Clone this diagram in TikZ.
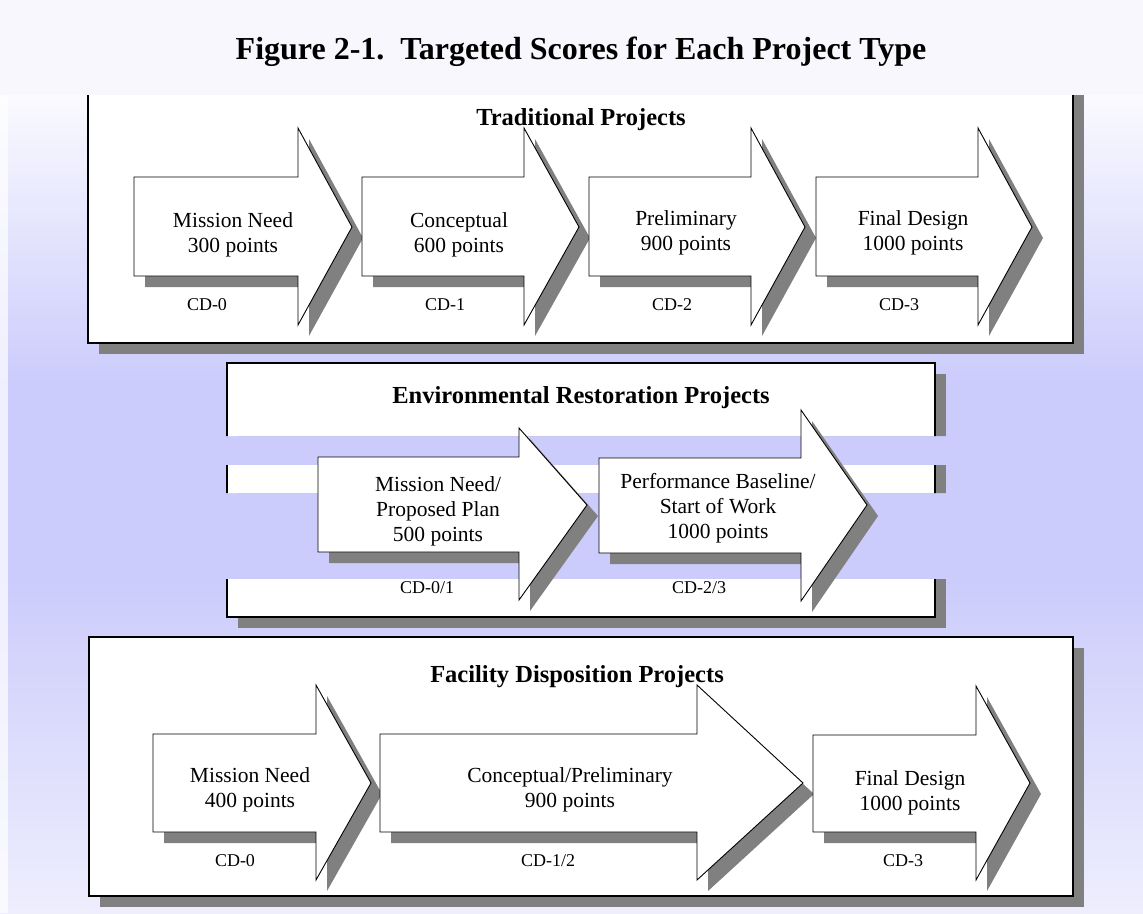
\documentclass[tikz,border=0pt]{standalone}
\usepackage{fontspec}
\setmainfont{Liberation Serif}
\usepackage{xcolor}
\usepackage{tikz}
\definecolor{shadow}{HTML}{808080}
\definecolor{lilac}{HTML}{CCCCFC}
\definecolor{paper}{HTML}{F7F7FD}
\definecolor{pale}{HTML}{FAFAFF}
\definecolor{foot}{HTML}{EEEEFD}
\tikzset{
  % node options
  heading/.style={font=\bfseries\fontsize{32}{36}\selectfont,anchor=base,inner sep=0pt},
  boxtitle/.style={font=\bfseries\fontsize{24.5}{28}\selectfont,anchor=base,inner sep=0pt},
  phase/.style={font=\fontsize{21.5}{25}\selectfont,align=center,inner sep=0pt},
  milestone/.style={font=\fontsize{18}{21}\selectfont,anchor=base,inner sep=0pt},
  % path options
  panel/.style={draw=black,fill=white,line width=1.3pt},
  outline/.style={draw=black,fill=white,line width=0.9pt,line join=miter},
  drop/.style={fill=shadow,xshift=11pt,yshift=-11pt},
}
% left, head base, tip, body top, body bottom, head top, head bottom, tip y
\newcommand{\arrowpath}[8]{(#1,#4) -- (#2,#4) -- (#2,#6) -- (#3,#8) -- (#2,#7) -- (#2,#5) -- (#1,#5) -- cycle}
\newcommand{\phasearrow}[8]{%
  \fill[drop] \arrowpath{#1}{#2}{#3}{#4}{#5}{#6}{#7}{#8};
  \draw[outline] \arrowpath{#1}{#2}{#3}{#4}{#5}{#6}{#7}{#8};}

\begin{document}
\begin{tikzpicture}[x=1pt,y=-1pt]
    \useasboundingbox (0,0) rectangle (1143,913);
    % background
    \shade[top color=pale,bottom color=lilac] (0,95) rectangle (1143,381);
    \fill[lilac] (0,380) rectangle (1143,581);
    \shade[top color=lilac,bottom color=foot] (0,580) rectangle (1143,913);
    \fill[white,opacity=0.7] (0,95) rectangle (8,913);

    % panels
    \fill[drop] (88,84) rectangle (1073,343);
    \draw[panel] (88,84) rectangle (1073,343);
    \begin{scope}
      \clip (0,361) rectangle (1143,436) (0,465) rectangle (1143,493) (0,579) rectangle (1143,640);
      \fill[drop] (227,363) rectangle (935,617);
      \draw[panel] (227,363) rectangle (935,617);
    \end{scope}
    \fill[drop] (89,637) rectangle (1073,896);
    \draw[panel] (89,637) rectangle (1073,896);

    % title band
    \fill[paper] (0,0) rectangle (1143,95);
    \node[heading] (fig) at (581,59) {Figure 2-1.\ \ Targeted Scores for Each Project Type};

    \node[boxtitle] (trad) at (581,125) {Traditional Projects};
    \node[boxtitle] (envr) at (581,403) {Environmental Restoration Projects};
    \node[boxtitle] (fdis) at (577,682) {Facility Disposition Projects};

    % traditional
    \phasearrow{134}{298}{352}{177}{276}{128}{325}{227}
    \phasearrow{362}{524}{579}{177}{276}{128}{325}{227}
    \phasearrow{589}{751}{805}{177}{276}{128}{325}{227}
    \phasearrow{816}{978}{1032}{177}{276}{128}{325}{227}
    \node[phase] (tMN) at (233,235) {Mission Need\\300 points};
    \node[phase] (tCo) at (459,235) {Conceptual\\600 points};
    \node[phase] (tPr) at (686,233) {Preliminary\\900 points};
    \node[phase] (tFD) at (913,233) {Final Design\\1000 points};
    \node[milestone] (tcd0) at (207,310) {CD-0};
    \node[milestone] (tcd1) at (445,310) {CD-1};
    \node[milestone] (tcd2) at (672,310) {CD-2};
    \node[milestone] (tcd3) at (899,310) {CD-3};

    % environmental restoration
    \phasearrow{318}{519}{587}{457}{552}{428}{600}{505}
    \phasearrow{599}{801}{867}{458}{553}{410}{601}{505}
    \node[phase] (eMN) at (438,511) {Mission Need/\\Proposed Plan\\500 points};
    \node[phase] (ePB) at (718,508) {Performance Baseline/\\Start of Work\\1000 points};
    \node[milestone] (ecd01) at (427,593) {CD-0/1};
    \node[milestone] (ecd23) at (699,593) {CD-2/3};

    % facility disposition
    \phasearrow{153}{316}{371}{734}{832}{685}{880}{783}
    \phasearrow{380}{697}{803}{734}{832}{685}{880}{783}
    \phasearrow{813}{976}{1030}{735}{832}{686}{880}{783}
    \node[phase] (fMN) at (250,790) {Mission Need\\400 points};
    \node[phase] (fCP) at (570,790) {Conceptual/Preliminary\\900 points};
    \node[phase] (fFD) at (910,793) {Final Design\\1000 points};
    \node[milestone] (fcd0) at (235,866) {CD-0};
    \node[milestone] (fcd12) at (548,866) {CD-1/2};
    \node[milestone] (fcd3) at (903,866) {CD-3};
\end{tikzpicture}
\end{document}
